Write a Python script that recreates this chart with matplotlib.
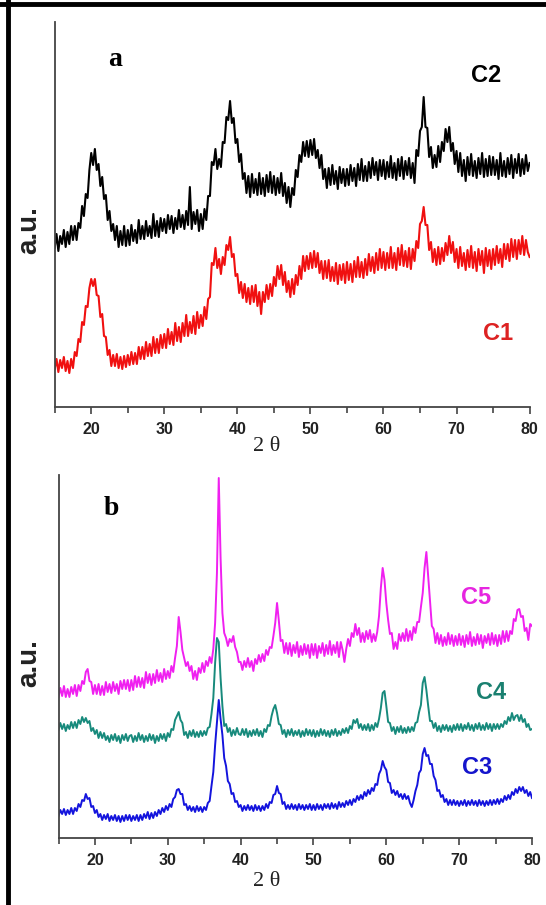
import numpy as np
import matplotlib
matplotlib.use("Agg")
import matplotlib.pyplot as plt
from matplotlib.lines import Line2D

# 2 theta grid, read every 0.25 deg from 15 to 80 (261 points)
two_theta = np.arange(15, 80.001, 0.25)

# panel a (arbitrary units)
c2 = [159, 173, 156, 171, 163, 177, 160, 175, 163, 181, 167, 181, 167, 184, 179, 201, 191, 213, 209, 237,
      254, 242, 258, 237, 243, 221, 230, 208, 212, 187, 196, 176, 183, 167, 181, 160, 176, 162, 181, 161,
      177, 162, 182, 166, 177, 164, 187, 168, 181, 168, 186, 171, 181, 169, 193, 171, 186, 170, 189, 176,
      188, 174, 192, 178, 191, 174, 189, 178, 197, 180, 192, 178, 196, 182, 220, 178, 195, 183, 197, 176,
      193, 178, 198, 187, 211, 211, 245, 242, 258, 238, 248, 240, 265, 264, 290, 287, 306, 284, 289, 264,
      268, 245, 253, 228, 234, 214, 231, 210, 233, 214, 228, 212, 234, 213, 229, 211, 232, 215, 235, 214,
      231, 212, 229, 214, 234, 211, 224, 204, 220, 200, 219, 212, 237, 230, 252, 245, 265, 251, 266, 250,
      267, 252, 268, 249, 257, 239, 252, 228, 238, 219, 239, 222, 242, 223, 236, 218, 240, 224, 238, 221,
      238, 222, 242, 226, 239, 221, 243, 227, 248, 226, 241, 226, 245, 229, 249, 232, 245, 227, 247, 231,
      247, 228, 245, 230, 251, 229, 244, 227, 248, 231, 250, 228, 246, 232, 249, 229, 244, 224, 257, 251,
      276, 280, 310, 280, 279, 250, 260, 239, 252, 240, 261, 245, 265, 256, 278, 265, 280, 256, 264, 243,
      256, 235, 254, 231, 247, 226, 250, 232, 253, 231, 246, 229, 249, 233, 254, 230, 248, 231, 251, 232,
      250, 232, 247, 228, 254, 231, 246, 230, 249, 233, 252, 229, 248, 234, 253, 231, 248, 233, 252, 236,
      244]
c1 = [38, 48, 35, 47, 39, 50, 36, 46, 34, 48, 39, 55, 51, 68, 65, 85, 82, 101, 100, 119,
      128, 121, 128, 112, 111, 90, 93, 71, 70, 52, 57, 41, 52, 41, 53, 39, 50, 38, 51, 40,
      52, 42, 55, 43, 54, 43, 60, 48, 60, 48, 65, 51, 63, 51, 70, 54, 68, 54, 72, 59,
      73, 59, 78, 63, 75, 62, 84, 66, 80, 65, 84, 71, 92, 71, 85, 74, 91, 73, 95, 79,
      92, 81, 100, 88, 108, 110, 144, 142, 159, 139, 148, 133, 150, 142, 162, 157, 170, 150, 153, 131,
      133, 114, 125, 109, 123, 105, 119, 103, 121, 105, 122, 101, 115, 93, 115, 105, 122, 108, 123, 111,
      130, 121, 141, 128, 142, 122, 135, 115, 126, 110, 128, 113, 132, 122, 141, 128, 151, 136, 151, 138,
      154, 139, 156, 140, 154, 134, 146, 128, 146, 129, 147, 126, 140, 126, 144, 123, 142, 127, 143, 124,
      145, 127, 143, 125, 146, 130, 150, 130, 145, 129, 148, 132, 153, 136, 150, 134, 154, 137, 158, 139,
      155, 137, 154, 139, 160, 139, 154, 137, 159, 142, 162, 141, 156, 140, 159, 138, 158, 146, 166, 159,
      183, 186, 200, 182, 182, 157, 165, 145, 158, 142, 160, 143, 159, 146, 164, 152, 171, 154, 165, 145,
      158, 139, 160, 141, 154, 137, 157, 140, 161, 139, 155, 136, 158, 142, 156, 134, 159, 141, 157, 138,
      158, 142, 161, 144, 158, 140, 163, 148, 163, 146, 168, 150, 167, 148, 167, 153, 171, 152, 167, 155,
      150]

# panel b
c5 = [141, 150, 142, 152, 141, 149, 141, 151, 144, 153, 142, 153, 147, 157, 154, 166, 169, 157, 156, 144,
      153, 144, 154, 143, 152, 143, 156, 146, 154, 145, 156, 147, 154, 144, 157, 149, 158, 149, 158, 147,
      158, 148, 162, 151, 161, 151, 160, 150, 166, 155, 164, 153, 164, 155, 168, 157, 165, 156, 169, 159,
      167, 160, 172, 166, 180, 192, 221, 206, 188, 180, 172, 176, 167, 172, 159, 167, 158, 170, 165, 175,
      166, 177, 172, 181, 175, 189, 215, 265, 360, 280, 225, 205, 200, 192, 199, 196, 202, 191, 186, 176,
      176, 168, 177, 171, 180, 171, 177, 167, 179, 174, 183, 176, 184, 177, 188, 183, 191, 190, 202, 215,
      235, 217, 197, 198, 185, 195, 184, 195, 182, 193, 185, 196, 181, 192, 183, 194, 184, 193, 180, 194,
      183, 194, 180, 192, 185, 195, 182, 193, 184, 197, 183, 193, 185, 196, 181, 196, 188, 176, 189, 199,
      192, 205, 201, 214, 203, 210, 196, 205, 196, 207, 199, 208, 196, 204, 197, 206, 222, 250, 270, 258,
      235, 218, 204, 205, 189, 196, 189, 204, 197, 205, 197, 209, 197, 207, 198, 211, 205, 216, 216, 231,
      245, 270, 286, 262, 237, 212, 209, 195, 205, 194, 203, 192, 201, 193, 205, 194, 203, 192, 202, 193,
      204, 193, 202, 191, 203, 194, 206, 192, 201, 193, 204, 194, 203, 190, 202, 195, 204, 193, 205, 194,
      203, 192, 203, 194, 207, 196, 207, 197, 207, 204, 219, 217, 228, 229, 221, 222, 207, 210, 198, 214,
      212]
c4 = [108, 115, 109, 114, 107, 113, 109, 116, 110, 116, 110, 118, 114, 121, 116, 120, 115, 117, 107, 110,
      104, 108, 100, 106, 100, 105, 98, 102, 96, 103, 98, 104, 97, 102, 95, 103, 98, 104, 97, 102,
      103, 96, 102, 97, 105, 98, 103, 96, 102, 97, 104, 98, 103, 95, 102, 97, 104, 99, 104, 97,
      105, 101, 109, 108, 118, 122, 126, 118, 115, 103, 106, 100, 107, 102, 108, 101, 106, 101, 107, 102,
      107, 103, 110, 111, 124, 140, 175, 200, 196, 160, 132, 112, 114, 106, 110, 102, 108, 103, 110, 104,
      103, 109, 103, 109, 101, 107, 102, 108, 103, 109, 102, 107, 101, 109, 106, 113, 112, 122, 129, 133,
      125, 114, 113, 104, 108, 101, 108, 103, 109, 102, 107, 103, 108, 101, 107, 102, 109, 103, 108, 102,
      108, 101, 107, 102, 109, 103, 108, 102, 107, 101, 108, 103, 109, 102, 107, 103, 109, 105, 110, 105,
      112, 109, 118, 115, 119, 110, 114, 108, 113, 108, 114, 107, 113, 108, 115, 111, 119, 130, 145, 147,
      132, 116, 115, 107, 111, 104, 111, 106, 112, 105, 110, 105, 111, 106, 111, 107, 115, 116, 126, 133,
      155, 161, 148, 132, 117, 117, 110, 115, 107, 112, 106, 113, 108, 113, 107, 112, 106, 113, 108, 114,
      108, 114, 107, 113, 109, 115, 108, 113, 107, 114, 109, 115, 108, 113, 108, 115, 109, 114, 107, 114,
      109, 114, 109, 114, 111, 117, 114, 121, 117, 125, 118, 122, 123, 117, 123, 116, 119, 111, 114, 108,
      109]
c3 = [22, 28, 24, 29, 23, 28, 24, 30, 24, 30, 27, 34, 31, 38, 37, 44, 39, 40, 31, 32,
      25, 28, 21, 24, 18, 23, 19, 24, 17, 22, 18, 23, 17, 22, 16, 22, 17, 23, 18, 23,
      17, 22, 18, 23, 17, 23, 18, 24, 20, 26, 19, 25, 20, 26, 22, 28, 24, 30, 26, 32,
      28, 34, 31, 39, 41, 48, 49, 44, 44, 33, 34, 28, 32, 27, 31, 26, 32, 27, 31, 26,
      31, 28, 35, 37, 52, 66, 93, 116, 138, 119, 103, 80, 72, 57, 54, 44, 45, 36, 37, 31,
      33, 27, 32, 28, 33, 28, 32, 27, 33, 28, 32, 27, 32, 28, 34, 30, 36, 35, 43, 44,
      52, 45, 44, 34, 36, 29, 33, 29, 34, 29, 33, 28, 34, 29, 33, 28, 33, 29, 34, 28,
      33, 28, 34, 29, 33, 28, 34, 30, 34, 29, 35, 30, 34, 29, 36, 31, 35, 31, 37, 33,
      38, 33, 39, 36, 42, 38, 43, 39, 46, 42, 48, 44, 50, 47, 54, 53, 64, 68, 77, 71,
      68, 56, 55, 45, 48, 43, 47, 41, 44, 39, 44, 39, 42, 35, 31, 38, 47, 53, 65, 68,
      84, 90, 82, 83, 74, 74, 62, 58, 47, 48, 41, 43, 36, 39, 33, 38, 33, 38, 33, 37,
      32, 37, 33, 38, 32, 37, 33, 38, 33, 37, 32, 38, 33, 37, 32, 37, 33, 38, 33, 38,
      34, 39, 34, 39, 36, 42, 38, 43, 39, 46, 43, 49, 45, 51, 47, 51, 45, 48, 42, 46,
      40]

W, H = 546, 905
fig = plt.figure(figsize=(W / 100, H / 100), dpi=100)

sans = ['Liberation Sans', 'DejaVu Sans']
serif = ['Liberation Serif', 'DejaVu Serif']


def setup_axes(ax, ymax):
    ax.set_xlim(15, 80)
    ax.set_ylim(0, ymax)
    ax.spines['top'].set_visible(False)
    ax.spines['right'].set_visible(False)
    for s in ['left', 'bottom']:
        ax.spines[s].set_color('#444444')
        ax.spines[s].set_linewidth(1.3)
    ax.set_yticks([])
    ax.set_xticks(range(20, 81, 10))
    ax.set_xticks(range(15, 81, 10), minor=True)
    ax.tick_params(axis='x', which='major', direction='out', length=5, width=1.2,
                   color='#444444', pad=6)
    ax.tick_params(axis='x', which='minor', direction='out', length=4, width=1.2,
                   color='#444444')
    for lbl in ax.get_xticklabels():
        lbl.set_family(sans)
        lbl.set_fontweight('bold')
        lbl.set_fontsize(11.5)
        lbl.set_color('#222222')


# panel a
ax1 = fig.add_axes([54.7 / W, 1 - 407 / H, (529.6 - 54.7) / W, 385 / H])
ax1.plot(two_theta, c2, color='black', lw=1.5)
ax1.plot(two_theta, c1, color='#f01010', lw=1.5)
setup_axes(ax1, 385)
ax1.text(23.3, 347, 'a', family=serif, fontweight='bold', fontsize=20,
         ha='center', va='center')
ax1.text(74.0, 332, 'C2', family=sans, fontweight='bold', fontsize=17,
         ha='center', va='center', color='black')
ax1.text(75.7, 74, 'C1', family=sans, fontweight='bold', fontsize=17,
         ha='center', va='center', color='#dd2222')

# panel b
ax2 = fig.add_axes([58.5 / W, 1 - 838 / H, (532 - 58.5) / W, 363 / H])
ax2.plot(two_theta, c5, color='#f020f0', lw=1.4)
ax2.plot(two_theta, c4, color='#178a7c', lw=1.4)
ax2.plot(two_theta, c3, color='#1414dd', lw=1.4)
setup_axes(ax2, 363)
ax2.text(22.2, 330, 'b', family=serif, fontweight='bold', fontsize=20,
         ha='center', va='center')
ax2.text(72.3, 241, 'C5', family=sans, fontweight='bold', fontsize=17,
         ha='center', va='center', color='#e626e0')
ax2.text(74.4, 146, 'C4', family=sans, fontweight='bold', fontsize=17,
         ha='center', va='center', color='#1a8070')
ax2.text(72.4, 71, 'C3', family=sans, fontweight='bold', fontsize=17,
         ha='center', va='center', color='#1515cc')

# axis titles
for yc in [230, 663]:
    fig.text(29 / W, 1 - yc / H, 'a.u.', family=sans, fontweight='bold', fontsize=20,
             rotation=90, ha='center', va='center', color='#222222')
for yc in [446, 881]:
    fig.text(267 / W, 1 - yc / H, '2 θ', family=serif, fontsize=16,
             ha='center', va='center', color='#222222')

# frame lines on the left and top of the picture
fig.add_artist(Line2D([8 / W, 8 / W], [0, 1], color='black', lw=3.5))
fig.add_artist(Line2D([0, 1], [1 - 4 / H, 1 - 4 / H], color='black', lw=3.5))

fig.savefig('out.png', dpi=100)
